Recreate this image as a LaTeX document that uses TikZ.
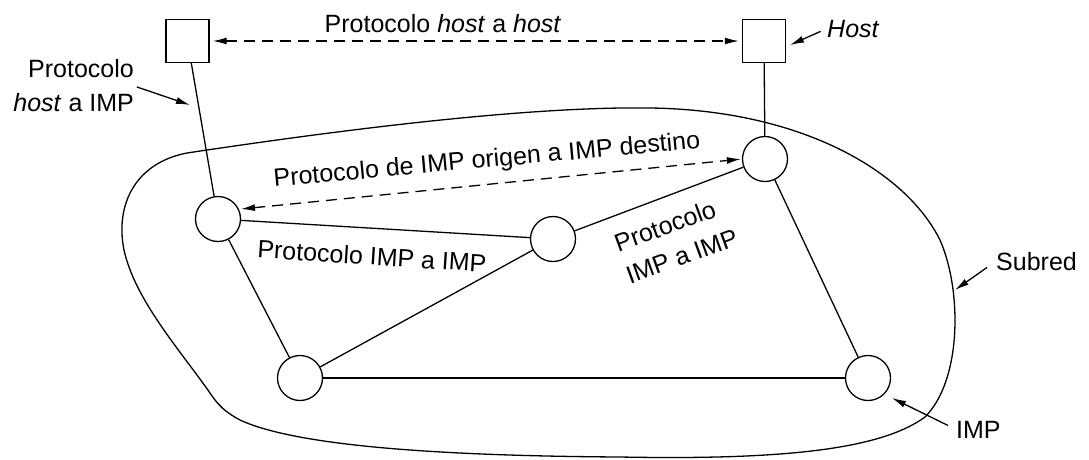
\documentclass[tikz,border=0pt]{standalone}
\usepackage{fontspec}
\setmainfont{Liberation Sans}
\usetikzlibrary{arrows.meta}
\begin{document}
\begin{tikzpicture}[x=1pt,y=-1pt,
  imp/.style={circle,draw,line width=1.3pt,fill=white,minimum size=45pt,inner sep=0pt},
  hostbox/.style={rectangle,draw,line width=1.3pt,fill=white,minimum size=43pt,inner sep=0pt},
  link/.style={line width=1.3pt},
  dashlink/.style={line width=1.3pt,dash pattern=on 11pt off 7pt,{Latex[length=14pt,width=7pt]}-{Latex[length=14pt,width=7pt]}},
  pointer/.style={line width=1.3pt,-{Latex[length=14pt,width=7pt]}},
  lbl/.style={font=\fontsize{25}{34}\selectfont,inner sep=0pt}
]
\useasboundingbox (0,0) rectangle (1089,459);

% subnet outline
\draw[link] (187,153) .. controls (320,133) and (520,106) .. (650,108)
  .. controls (800,110) and (905,170) .. (940,240)
  .. controls (962,290) and (962,380) .. (925,417)
  .. controls (880,450) and (780,460) .. (620,457)
  .. controls (460,456) and (300,448) .. (240,420)
  .. controls (225,412) and (218,405) .. (210,393)
  .. controls (180,350) and (135,300) .. (124,250)
  .. controls (115,205) and (135,163) .. (187,153) -- cycle;

% nodes
\node[hostbox] (hL) at (187.5,41) {};
\node[hostbox] (hR) at (764,41) {};
\node[imp] (A) at (218,219) {};
\node[imp] (B) at (553,239) {};
\node[imp] (C) at (765,159) {};
\node[imp] (D) at (300,378) {};
\node[imp] (E) at (868,378) {};

% links
\draw[link] (hL) -- (A);
\draw[link] (hR) -- (C);
\draw[link] (A) -- (B);
\draw[link] (A) -- (D);
\draw[link] (D) -- (B);
\draw[link] (B) -- (C);
\draw[link] (C) -- (E);
\draw[link] (D) -- (E);

% dashed protocol arrows
\draw[dashlink,shorten <=3pt,shorten >=3pt] (hL.east) -- (hR.west);
\draw[dashlink,shorten <=2pt,shorten >=1pt] (A.25) -- (C.west);

% labels
\node[lbl,anchor=base] (thh) at (443,32) {Protocolo \textit{host} a \textit{host}};
\node[lbl,anchor=base west] (tHost) at (827,37) {\textit{Host}};
\node[lbl,align=right,anchor=east] (thi) at (134,86) {Protocolo\\\textit{host} a IMP};
\node[lbl,rotate=5.2] (tii) at (487,161) {Protocolo de IMP origen a IMP destino};
\node[lbl,rotate=-3.7] (tab) at (372,256) {Protocolo IMP a IMP};
\node[lbl,rotate=20,align=left] (tbc) at (676,240) {Protocolo\\IMP a IMP};
\node[lbl,anchor=base west] (tsub) at (996,270) {Subred};
\node[lbl,anchor=base west] (timp) at (956,438) {IMP};

% pointer arrows
\coordinate (pHost) at (790,45);
\coordinate (pHI) at (190,105);
\coordinate (pSub) at (955,290);
\coordinate (pImp) at (892,398);
\draw[pointer,shorten <=7pt] (tHost.west) -- (pHost);
\draw[pointer,shorten <=3pt] (thi.east) -- (pHI);
\draw[pointer,shorten <=11pt] (tsub.west) -- (pSub);
\draw[pointer,shorten <=9pt] (timp.west) -- (pImp);
\end{tikzpicture}
\end{document}
